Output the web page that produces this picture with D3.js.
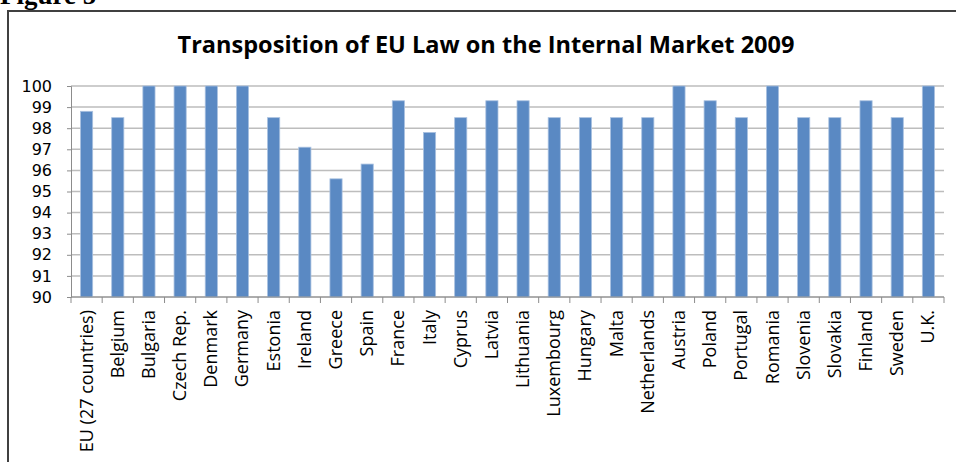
<!DOCTYPE html>
<html>
<head>
<meta charset="utf-8">
<script src="https://cdn.jsdelivr.net/npm/d3@7"></script>
<style>
  body { margin: 0; background: #fff; }
  svg text { font-family: "Open Sans", sans-serif; }
</style>
</head>
<body>
<div id="chart-area"></div>
<script>
const countries = ["EU (27 countries)", "Belgium", "Bulgaria", "Czech Rep.", "Denmark", "Germany",
  "Estonia", "Ireland", "Greece", "Spain", "France", "Italy", "Cyprus", "Latvia", "Lithuania",
  "Luxembourg", "Hungary", "Malta", "Netherlands", "Austria", "Poland", "Portugal", "Romania",
  "Slovenia", "Slovakia", "Finland", "Sweden", "U.K."];
const values = [98.8, 98.5, 100, 100, 100, 100, 98.5, 97.1, 95.6, 96.3, 99.3, 97.8, 98.5, 99.3, 99.3,
  98.5, 98.5, 98.5, 98.5, 100, 99.3, 98.5, 100, 98.5, 98.5, 99.3, 98.5, 100];
const yTicks = [90, 91, 92, 93, 94, 95, 96, 97, 98, 99, 100];

const chart = { width: 956, height: 462 };
const margin = { top: 86, right: 12, left: 71, bottom: 165 };
const width = chart.width - margin.left - margin.right;
const height = chart.height - margin.top - margin.bottom;

const data = countries.map((c, i) => ({ name: c, value: values[i] }));

const svg = d3.select("#chart-area").append("svg")
  .attr("width", chart.width)
  .attr("height", chart.height);

// frame of the figure
svg.append("path")
  .attr("d", `M8,${chart.height + 5} V11 H${chart.width + 5}`)
  .attr("fill", "none")
  .attr("stroke", "#404040")
  .attr("stroke-width", 2);

svg.append("text")
  .text("Figure 5")
  .attr("x", 0)
  .attr("y", 4)
  .style("font-family", "'Liberation Serif', serif")
  .style("font-weight", "bold")
  .style("font-size", "27px");

svg.append("text")
  .text("Transposition of EU Law on the Internal Market 2009")
  .attr("x", 486)
  .attr("y", 53)
  .attr("text-anchor", "middle")
  .attr("textLength", 617)
  .attr("lengthAdjust", "spacingAndGlyphs")
  .style("font-weight", "bold")
  .style("font-size", "24px")
  .style("fill", "#000");

const g = svg.append("g").attr("transform", `translate(${margin.left}, ${margin.top})`);

const x = d3.scaleBand().domain(countries).range([0, width]);
const y = d3.scaleLinear().domain([90, 100]).range([height, 0]);

// gridlines
g.append("g")
  .selectAll("line")
  .data(yTicks)
  .join("line")
  .attr("x1", 0)
  .attr("x2", width)
  .attr("y1", d => y(d))
  .attr("y2", d => y(d))
  .attr("stroke", "#bdbdbd")
  .attr("stroke-width", 1.5);

// bars
g.append("g")
  .selectAll("rect")
  .data(data)
  .join("rect")
  .attr("x", d => x(d.name) + x.bandwidth() * 0.305)
  .attr("y", d => y(d.value))
  .attr("width", x.bandwidth() * 0.39)
  .attr("height", d => y(90) - y(d.value))
  .attr("fill", "#5a89c3")
  .attr("stroke", "#a9c1e0")
  .attr("stroke-width", 0.8);

// y axis
const yAxis = g.append("g")
  .call(d3.axisLeft(y).tickValues(yTicks).tickSize(4).tickPadding(15));
yAxis.select(".domain").attr("stroke", "#8c8c8c");
yAxis.selectAll(".tick line").attr("stroke", "#8c8c8c");
yAxis.selectAll("text")
  .style("font-family", "'DejaVu Sans', sans-serif")
  .style("font-size", "16px")
  .attr("fill", "#000");

// x axis with ticks at category boundaries
const xAxis = g.append("g").attr("transform", `translate(0, ${height})`);
xAxis.append("line")
  .attr("x1", 0).attr("x2", width)
  .attr("stroke", "#8c8c8c");
xAxis.selectAll(".xt")
  .data(d3.range(countries.length + 1))
  .join("line")
  .attr("class", "xt")
  .attr("x1", i => i * x.step())
  .attr("x2", i => i * x.step())
  .attr("y1", 0)
  .attr("y2", 6)
  .attr("stroke", "#8c8c8c");
xAxis.selectAll(".xl")
  .data(countries)
  .join("text")
  .attr("class", "xl")
  .text(d => d)
  .attr("transform", d => `translate(${x(d) + x.bandwidth() / 2 + 6}, 13) rotate(-90)`)
  .attr("text-anchor", "end")
  .style("font-size", "18px")
  .attr("fill", "#000");
</script>
</body>
</html>
